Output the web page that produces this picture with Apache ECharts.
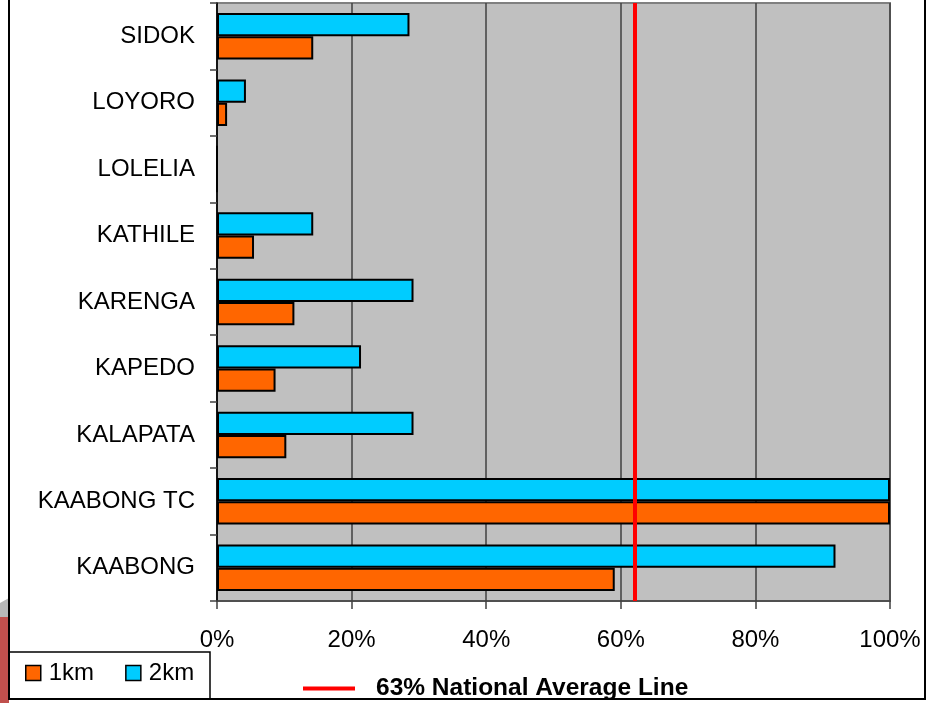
<!DOCTYPE html>
<html>
<head>
<meta charset="utf-8">
<script src="https://cdn.jsdelivr.net/npm/echarts@6/dist/echarts.min.js"></script>
<style>
html,body{margin:0;padding:0;background:#fff;}
#chart{width:929px;height:703px;}
</style>
</head>
<body>
<div id="chart"></div>
<script>
const categories = ['KAABONG', 'KAABONG TC', 'KALAPATA', 'KAPEDO', 'KARENGA', 'KATHILE', 'LOLELIA', 'LOYORO', 'SIDOK'];
const km1 = [59.1, 100, 10.3, 8.7, 11.5, 5.5, 0, 1.5, 14.3];
const km2 = [91.9, 100, 29.2, 21.4, 29.2, 14.3, 0, 4.3, 28.6];
const nationalAverage = 62;
const seriesNames = ['1km', '2km'];
const averageName = '63% National Average Line';

const FONT = '"Liberation Sans", Arial, sans-serif';
const chart = echarts.init(document.getElementById('chart'));
chart.setOption({
  animation: false,
  backgroundColor: '#ffffff',
  grid: {
    left: 217, right: 39, top: 3, bottom: 102,
    outerBoundsMode: 'none',
    show: true, backgroundColor: '#C0C0C0', borderColor: '#808080', borderWidth: 2
  },
  xAxis: {
    type: 'value', min: 0, max: 100, interval: 20,
    axisLine: { show: true, lineStyle: { color: '#404040', width: 1.5 } },
    axisTick: { show: true, length: 8, lineStyle: { color: '#404040', width: 1.5 } },
    axisLabel: { formatter: '{value}%', fontSize: 24, color: '#000', fontFamily: FONT, margin: 27 },
    splitLine: { show: true, lineStyle: { color: '#404040', width: 1.5 } }
  },
  yAxis: {
    type: 'category', data: categories,
    axisLine: { show: true, lineStyle: { color: '#000', width: 1.5 } },
    axisTick: { show: true, length: 7, lineStyle: { color: '#404040', width: 1.5 } },
    axisLabel: { fontSize: 24, color: '#000', fontFamily: FONT, margin: 22 },
    splitLine: { show: false }
  },
  legend: [
    {
      data: seriesNames, left: 25, top: 661, padding: 0,
      itemWidth: 15, itemHeight: 15, itemGap: 31,
      icon: 'rect',
      itemStyle: { borderColor: '#000', borderWidth: 1.5 },
      textStyle: { fontSize: 24, lineHeight: 24, color: '#000', fontFamily: FONT, padding: [0, 0, 0, 3] }
    },
    {
      data: [averageName], left: 303, top: 676, padding: 0,
      itemWidth: 52, itemHeight: 4, icon: 'rect',
      textStyle: { fontSize: 24.5, lineHeight: 24, fontWeight: 'bold', color: '#000', fontFamily: FONT, padding: [0, 0, 0, 16] }
    }
  ],
  series: [
    {
      name: seriesNames[1], type: 'bar', data: km2,
      barGap: '0%', barCategoryGap: '30%',
      itemStyle: { color: '#00CCFF', borderColor: '#000', borderWidth: 2 }
    },
    {
      name: seriesNames[0], type: 'bar', data: km1,
      barGap: '0%', barCategoryGap: '30%',
      itemStyle: { color: '#FF6600', borderColor: '#000', borderWidth: 2 }
    },
    {
      name: averageName, type: 'line', data: [],
      color: '#FF0000',
      itemStyle: { color: '#FF0000' },
      lineStyle: { color: '#FF0000', width: 4 },
      z: 5,
      markLine: {
        silent: true, symbol: ['none', 'none'],
        label: { show: false },
        lineStyle: { color: '#FF0000', width: 4, type: 'solid' },
        data: [{ xAxis: nationalAverage }]
      }
    }
  ],
  graphic: [
    { type: 'polygon', shape: { points: [[0, 603], [9, 598], [9, 620], [0, 625]] }, style: { fill: '#B8B8B8' }, z: -1 },
    { type: 'rect', shape: { x: 0, y: 617, width: 9, height: 86 }, style: { fill: '#C0504D' }, z: -1 },
    { type: 'rect', shape: { x: 9, y: -3, width: 916, height: 702 }, style: { fill: null, stroke: '#000', lineWidth: 2 }, silent: true },
    { type: 'rect', shape: { x: 9, y: 652, width: 201, height: 47 }, style: { fill: '#fff', stroke: '#000', lineWidth: 1.5 }, silent: true, z: -1 }
  ]
});
</script>
</body>
</html>
